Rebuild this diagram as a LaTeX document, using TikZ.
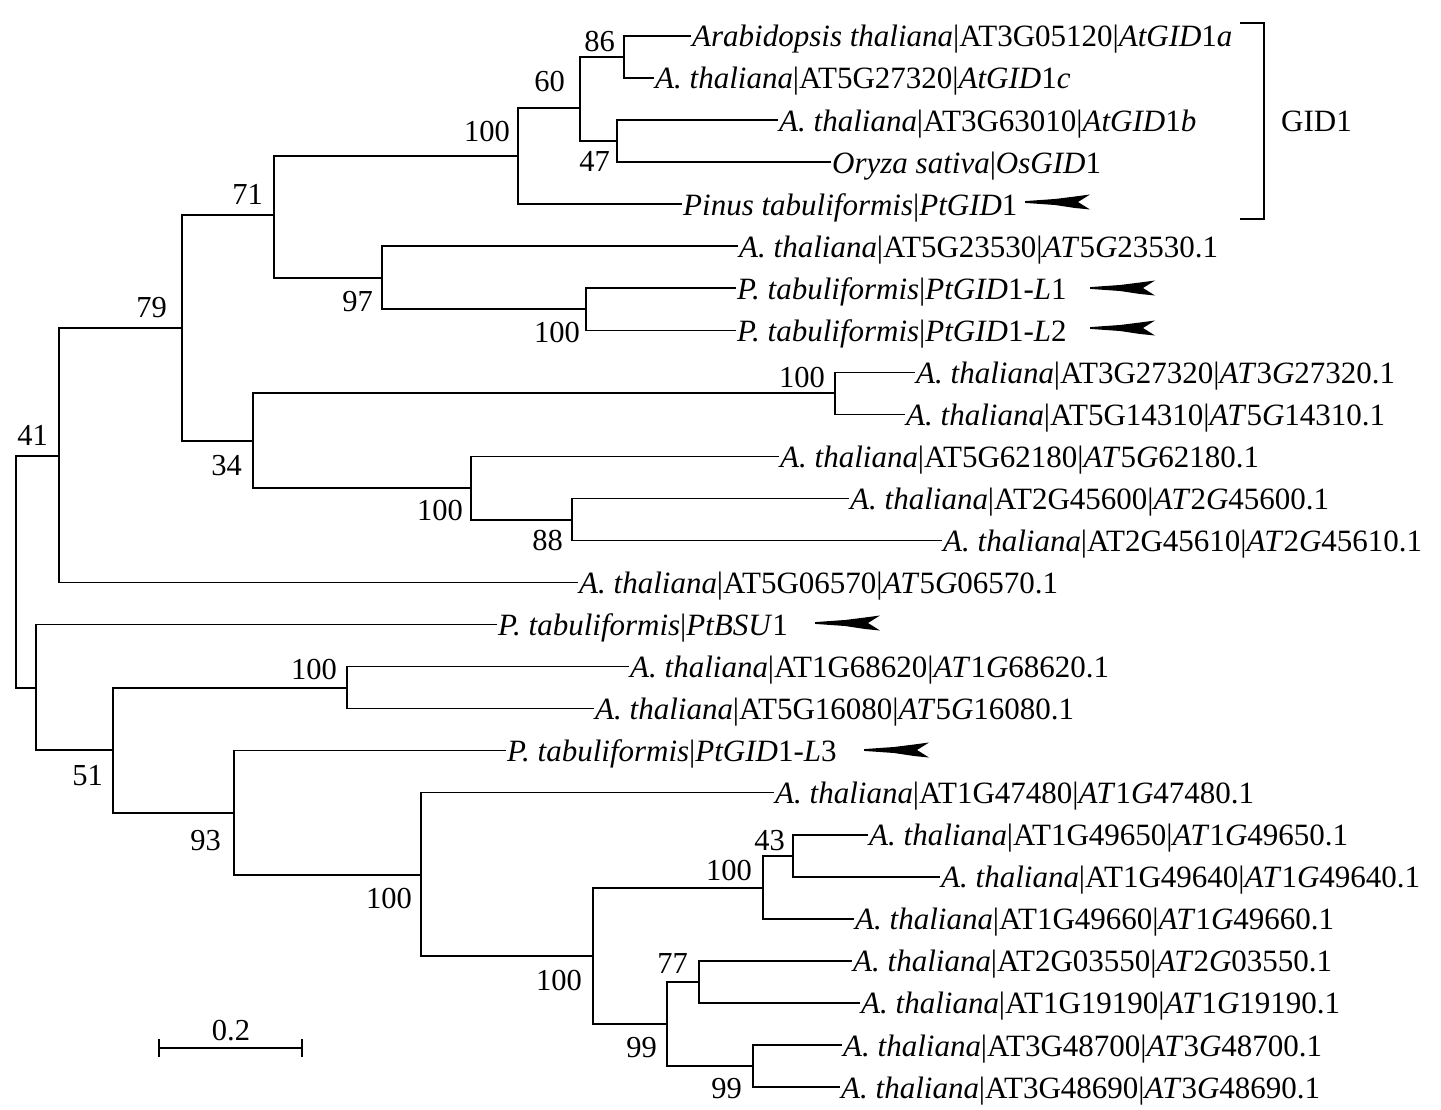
\documentclass[tikz,border=0pt]{standalone}
\usepackage{fontspec}
\setmainfont{Liberation Serif}
\newcommand\atleaf[2]{\textit{A. thaliana}|AT#1G#2|\textit{AT}#1\textit{G}#2.1}
\begin{document}
\begin{tikzpicture}[x=1pt,y=-1pt,
  br/.style={line width=1.5pt, black, line cap=rect},
  leaf/.style={anchor=base west, inner sep=0pt, font=\fontsize{31}{34}\selectfont},
  boot/.style={anchor=base east, inner sep=0pt, font=\fontsize{30.5}{34}\selectfont},
  gpointer/.pic={\fill[black] (0,-0.9) -- (30,-3) -- (50,-5.5) -- (65,-7.5) -- (53,0) -- (65,7.5) -- (50,6) -- (30,3) -- (0,0.9) -- cycle;}]
\useasboundingbox (0,0) rectangle (1441,1110);
\fill[white] (0,0) rectangle (1441,1110);

% internal nodes
\coordinate (n86) at (624,57);
\coordinate (n47) at (617,141);
\coordinate (n60) at (580,108);
\coordinate (n100a) at (518,156);
\coordinate (n100g) at (586,309);
\coordinate (n97) at (382,278);
\coordinate (n71) at (274,215);
\coordinate (n100h) at (835,393);
\coordinate (n88) at (572,520);
\coordinate (n100b) at (471,488);
\coordinate (n34) at (253,441);
\coordinate (n79) at (182,328);
\coordinate (nX) at (59,456);
\coordinate (n100c) at (347,688);
\coordinate (n43) at (793,856);
\coordinate (n100f) at (763,888);
\coordinate (n77) at (699,982);
\coordinate (n99b) at (753,1066);
\coordinate (n99a) at (667,1024);
\coordinate (n100e) at (593,956);
\coordinate (n100d) at (421,875);
\coordinate (n93) at (234,813);
\coordinate (n51) at (113,750);
\coordinate (nY) at (36,688);
\coordinate (n41) at (16,572);

% leaf ends
\coordinate (e1) at (690,36.0);
\coordinate (e2) at (653,78.0);
\coordinate (e3) at (777,120.1);
\coordinate (e4) at (830,162.1);
\coordinate (e5) at (681,204.2);
\coordinate (e6) at (737,246.2);
\coordinate (e7) at (735,288.2);
\coordinate (e8) at (735,330.3);
\coordinate (e9) at (914,372.3);
\coordinate (e10) at (904,414.4);
\coordinate (e11) at (778,456.4);
\coordinate (e12) at (848,498.4);
\coordinate (e13) at (941,540.5);
\coordinate (e14) at (577,582.5);
\coordinate (e15) at (496,624.6);
\coordinate (e16) at (628,666.6);
\coordinate (e17) at (593,708.6);
\coordinate (e18) at (505,750.7);
\coordinate (e19) at (773,792.7);
\coordinate (e20) at (867,834.8);
\coordinate (e21) at (939,876.8);
\coordinate (e22) at (853,918.8);
\coordinate (e23) at (851,960.9);
\coordinate (e24) at (859,1002.9);
\coordinate (e25) at (841,1045.0);
\coordinate (e26) at (839,1087.0);

% leaf labels
\node[leaf] (t1) at ([xshift=2pt,yshift=-11pt]e1) {\textit{Arabidopsis thaliana}|AT3G05120|\textit{AtGID}1\textit{a}};
\node[leaf] (t2) at ([xshift=2pt,yshift=-11pt]e2) {\textit{A. thaliana}|AT5G27320|\textit{AtGID}1\textit{c}};
\node[leaf] (t3) at ([xshift=2pt,yshift=-11pt]e3) {\textit{A. thaliana}|AT3G63010|\textit{AtGID}1\textit{b}};
\node[leaf] (t4) at ([xshift=2pt,yshift=-11pt]e4) {\textit{Oryza sativa}|\textit{OsGID}1};
\node[leaf] (t5) at ([xshift=2pt,yshift=-11pt]e5) {\textit{Pinus tabuliformis}|\textit{PtGID}1};
\node[leaf] (t6) at ([xshift=2pt,yshift=-11pt]e6) {\atleaf{5}{23530}};
\node[leaf] (t7) at ([xshift=2pt,yshift=-11pt]e7) {\textit{P. tabuliformis}|\textit{PtGID}1-\textit{L}1};
\node[leaf] (t8) at ([xshift=2pt,yshift=-11pt]e8) {\textit{P. tabuliformis}|\textit{PtGID}1-\textit{L}2};
\node[leaf] (t9) at ([xshift=2pt,yshift=-11pt]e9) {\atleaf{3}{27320}};
\node[leaf] (t10) at ([xshift=2pt,yshift=-11pt]e10) {\atleaf{5}{14310}};
\node[leaf] (t11) at ([xshift=2pt,yshift=-11pt]e11) {\atleaf{5}{62180}};
\node[leaf] (t12) at ([xshift=2pt,yshift=-11pt]e12) {\atleaf{2}{45600}};
\node[leaf] (t13) at ([xshift=2pt,yshift=-11pt]e13) {\atleaf{2}{45610}};
\node[leaf] (t14) at ([xshift=2pt,yshift=-11pt]e14) {\atleaf{5}{06570}};
\node[leaf] (t15) at ([xshift=2pt,yshift=-11pt]e15) {\textit{P. tabuliformis}|\textit{PtBSU}1};
\node[leaf] (t16) at ([xshift=2pt,yshift=-11pt]e16) {\atleaf{1}{68620}};
\node[leaf] (t17) at ([xshift=2pt,yshift=-11pt]e17) {\atleaf{5}{16080}};
\node[leaf] (t18) at ([xshift=2pt,yshift=-11pt]e18) {\textit{P. tabuliformis}|\textit{PtGID}1-\textit{L}3};
\node[leaf] (t19) at ([xshift=2pt,yshift=-11pt]e19) {\atleaf{1}{47480}};
\node[leaf] (t20) at ([xshift=2pt,yshift=-11pt]e20) {\atleaf{1}{49650}};
\node[leaf] (t21) at ([xshift=2pt,yshift=-11pt]e21) {\atleaf{1}{49640}};
\node[leaf] (t22) at ([xshift=2pt,yshift=-11pt]e22) {\atleaf{1}{49660}};
\node[leaf] (t23) at ([xshift=2pt,yshift=-11pt]e23) {\atleaf{2}{03550}};
\node[leaf] (t24) at ([xshift=2pt,yshift=-11pt]e24) {\atleaf{1}{19190}};
\node[leaf] (t25) at ([xshift=2pt,yshift=-11pt]e25) {\atleaf{3}{48700}};
\node[leaf] (t26) at ([xshift=2pt,yshift=-11pt]e26) {\atleaf{3}{48690}};

% branches
\draw[br] (n86) |- (e1); \draw[br] (n86) |- (e2);
\draw[br] (n47) |- (e3); \draw[br] (n47) |- (e4);
\draw[br] (n60) |- (n86); \draw[br] (n60) |- (n47);
\draw[br] (n100a) |- (n60); \draw[br] (n100a) |- (e5);
\draw[br] (n100g) |- (e7); \draw[br] (n100g) |- (e8);
\draw[br] (n97) |- (e6); \draw[br] (n97) |- (n100g);
\draw[br] (n71) |- (n100a); \draw[br] (n71) |- (n97);
\draw[br] (n100h) |- (e9); \draw[br] (n100h) |- (e10);
\draw[br] (n88) |- (e12); \draw[br] (n88) |- (e13);
\draw[br] (n100b) |- (e11); \draw[br] (n100b) |- (n88);
\draw[br] (n34) |- (n100h); \draw[br] (n34) |- (n100b);
\draw[br] (n79) |- (n71); \draw[br] (n79) |- (n34);
\draw[br] (nX) |- (n79); \draw[br] (nX) |- (e14);
\draw[br] (n100c) |- (e16); \draw[br] (n100c) |- (e17);
\draw[br] (n43) |- (e20); \draw[br] (n43) |- (e21);
\draw[br] (n100f) |- (n43); \draw[br] (n100f) |- (e22);
\draw[br] (n77) |- (e23); \draw[br] (n77) |- (e24);
\draw[br] (n99b) |- (e25); \draw[br] (n99b) |- (e26);
\draw[br] (n99a) |- (n77); \draw[br] (n99a) |- (n99b);
\draw[br] (n100e) |- (n100f); \draw[br] (n100e) |- (n99a);
\draw[br] (n100d) |- (e19); \draw[br] (n100d) |- (n100e);
\draw[br] (n93) |- (e18); \draw[br] (n93) |- (n100d);
\draw[br] (n51) |- (n100c); \draw[br] (n51) |- (n93);
\draw[br] (nY) |- (e15); \draw[br] (nY) |- (n51);
\draw[br] (n41) |- (nX); \draw[br] (n41) |- (nY);

% bootstrap values
\node[boot] (b86) at (615,52) {86};
\node[boot] (b60) at (565,92) {60};
\node[boot] (b47) at (610,172) {47};
\node[boot] (b100a) at (510,142) {100};
\node[boot] (b71) at (263,205) {71};
\node[boot] (b97) at (373,312) {97};
\node[boot] (b79) at (167,317) {79};
\node[boot] (b41) at (48,445) {41};
\node[boot] (b34) at (242,475) {34};
\node[boot] (b100b) at (463,520) {100};
\node[boot] (b100g) at (580,342) {100};
\node[boot] (b100h) at (825,387) {100};
\node[boot] (b88) at (563,550) {88};
\node[boot] (b100c) at (337,679) {100};
\node[boot] (b51) at (103,785) {51};
\node[boot] (b93) at (221,850) {93};
\node[boot] (b100d) at (412,908) {100};
\node[boot] (b100e) at (582,990) {100};
\node[boot] (b43) at (785,850) {43};
\node[boot] (b100f) at (752,880) {100};
\node[boot] (b77) at (688,973) {77};
\node[boot] (b99a) at (657,1057) {99};
\node[boot] (b99b) at (742,1098) {99};

% pointers
\pic at (1025,202) {gpointer};
\pic at (1090,288) {gpointer};
\pic at (1090,328) {gpointer};
\pic at (815,623) {gpointer};
\pic at (864,750) {gpointer};

% GID1 bracket
\coordinate (bt) at (1240,23);
\coordinate (bb) at (1240,219);
\draw[line width=1.8pt] (bt) -- (1264,23) -- (1264,219) -- (bb);
\node[leaf, anchor=base west] (gid) at (1281,132) {GID1};

% scale bar
\coordinate (s1) at (159,1048);
\coordinate (s2) at (302,1048);
\draw[line width=1.6pt] (s1) -- (s2);
\draw[line width=1.6pt] ([yshift=9pt]s1) -- ([yshift=-9pt]s1);
\draw[line width=1.6pt] ([yshift=9pt]s2) -- ([yshift=-9pt]s2);
\node[boot, anchor=base] (sc) at (231,1040) {0.2};
\end{tikzpicture}
\end{document}
